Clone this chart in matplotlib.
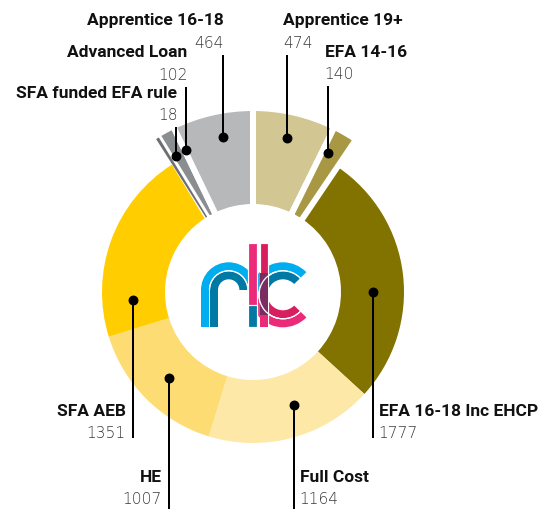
import numpy as np
import matplotlib
matplotlib.use("Agg")
import matplotlib.pyplot as plt
from matplotlib.patches import Wedge, Rectangle, Arc

# ---------------- data ----------------
categories = ["Apprentice 19+", "EFA 14-16", "EFA 16-18 Inc EHCP", "Full Cost", "HE",
              "SFA AEB", "SFA funded EFA rule", "Advanced Loan", "Apprentice 16-18"]
values = [474, 140, 1777, 1164, 1007, 1351, 18, 102, 464]
value_labels = ["474", "140", "1777", "1164", "1007", "1351", "18", "102", "464"]

# ---------------- styles / layout ----------------
colors = ["#D2C692", "#A89844", "#827200", "#FEE8A8", "#FEDC74", "#FFCD00",
          "#6E6F72", "#8B8E90", "#B7B8BA"]
raised = [True, True, False, False, False, False, True, True, True]

W, H = 550, 509
PT = 72.0 / 100.0          # px -> pt
fig = plt.figure(figsize=(W / 100, H / 100), dpi=100)
ax = fig.add_axes([0, 0, 1, 1])

cx, cy_px = 253.0, 292.0
cy = H - cy_px
R_ring, R_top, R_in = 151.0, 181.0, 88.0
gap = 6.0

wedges, _ = ax.pie(values, colors=colors, startangle=90, counterclock=False,
                   radius=R_ring, center=(cx, cy),
                   wedgeprops=dict(width=R_ring - R_in, edgecolor="none", linewidth=0))
for w, r in zip(wedges, raised):
    if r:
        w.set_radius(R_top + gap / 2)
        w.set_width(R_top - R_in + gap)
        w.set_edgecolor("white")
        w.set_linewidth(gap * PT)
        w.set_zorder(2)
# the tiny slice would vanish under the white separators: draw it without edge, on top
tiny = wedges[6]
tiny.set_linewidth(0)
tiny.set_radius(R_top)
tiny.set_width(R_top - R_in)
tiny.set_zorder(3)

# ---------------- labels / leader lines ----------------
# (line x px, dot radius, side, name y px, value y px, line end y px)
layout = [
    (286.7, 158, "L", 20, 43, 55),
    (328.3, 158, "L", 52, 74, 86),
    (373.3, 120, "Lb", 411, 433, 438),
    (294.3, 120, "Lb", 477, 499, 509),
    (169.3, 120, "Rb", 477, 499, 509),
    (133.3, 120, "Rb", 411, 433, 438),
    (176.0, 156, "R", 93, 115, 127),
    (186.0, 157, "R", 52, 75, 87),
    (222.7, 158, "R", 20, 43, 55),
]

name_font = dict(family=["Roboto", "DejaVu Sans"], fontweight="bold", fontsize=12.5, color="#111111")
val_font = dict(family=["DejaVu Sans"], fontweight="light", fontsize=11.2, color="#3a3a3a")

for cat, vl, (lx, rd, side, ny, vy, ey) in zip(categories, value_labels, layout):
    dx = lx - cx
    dy = np.sqrt(max(rd ** 2 - dx ** 2, 0))
    top = side in ("L", "R")
    dot_y_px = cy_px - dy if top else cy_px + dy
    ax.plot([lx, lx], [H - dot_y_px, H - ey], color="black", lw=2 * PT, zorder=5,
            solid_capstyle="butt")
    ax.plot([lx], [H - dot_y_px], "o", color="black", ms=8.5 * PT, zorder=6)
    if side == "L":
        tx, ha = lx - 3.5, "left"
    elif side == "R":
        tx, ha = lx + 1.5, "right"
    elif side == "Lb":
        tx, ha = lx + 5.5, "left"
    else:
        tx, ha = lx - 7.5, "right"
    ax.text(tx, H - ny, cat, ha=ha, va="center", **name_font)
    ax.text(tx, H - vy, vl, ha=ha, va="center", **val_font)

# ---------------- centre logo (decorative) ----------------
BLUE, TEAL, PINK, CRIM, PURP = "#00AEEF", "#0079A5", "#EC2A7A", "#D71E5E", "#7B2C60"
def Y(y):
    return H - y

# r : two concentric arches with legs
rc = (228.7, Y(290.0))
for rcl, col in ((23.7, BLUE), (14.7, TEAL)):
    ax.add_patch(Wedge(rc, rcl + 4, 0, 180, width=8, facecolor=col, edgecolor="none", zorder=7))
    ax.add_patch(Rectangle((rc[0] - rcl - 4, Y(327.3)), 8, 327.3 - 290.0,
                           facecolor=col, edgecolor="none", zorder=7))
ax.add_patch(Arc(rc, 2 * 19.2, 2 * 19.2, theta1=0, theta2=180, color="white", lw=1.3 * PT, zorder=7.5))

# c : two concentric arcs, top blue/teal, bottom pink/crimson
ccen = (283.0, Y(294.8))
for rcl, ctop, cbot in ((28.5, BLUE, PINK), (19.5, TEAL, CRIM)):
    ax.add_patch(Wedge(ccen, rcl + 4, 0, 180, width=8, facecolor=ctop, edgecolor="none", zorder=7))
    ax.add_patch(Wedge(ccen, rcl + 4, 180, 360, width=8, facecolor=cbot, edgecolor="none", zorder=7))
ax.add_patch(Arc(ccen, 2 * 24.0, 2 * 24.0, theta1=0, theta2=360, color="white", lw=1.3 * PT, zorder=7.1))
# cut the c opening
ax.add_patch(Wedge(ccen, 34, -44, 44, facecolor="white", edgecolor="none", zorder=7.2))

# l : two vertical bars
ax.add_patch(Rectangle((248.0, Y(327.3)), 8.7, 327.3 - 243, facecolor=PINK, edgecolor="white",
                       lw=1.2 * PT, zorder=8))
ax.add_patch(Rectangle((248.0, Y(327.3)), 8.7, 327.3 - 305, facecolor=TEAL, edgecolor="white",
                       lw=1.2 * PT, zorder=8.1))
ax.add_patch(Rectangle((259.7, Y(327.3)), 8.3, 327.3 - 243, facecolor=CRIM, edgecolor="white",
                       lw=1.2 * PT, zorder=8))
ax.add_patch(Rectangle((259.7, Y(315)), 8.3, 315 - 273, facecolor=PURP, edgecolor="none", zorder=8.1))
ax.add_patch(Rectangle((259.7, Y(327.3)), 8.3, 327.3 - 315, facecolor=PINK, edgecolor="none", zorder=8.1))
ax.add_patch(Arc(ccen, 2 * 24.0, 2 * 24.0, theta1=100, theta2=260, color="white", lw=1.3 * PT, zorder=8.5))

ax.set_xlim(0, W)
ax.set_ylim(0, H)
ax.set_aspect("equal")
ax.axis("off")
fig.savefig("out.png", dpi=100, facecolor="white")
